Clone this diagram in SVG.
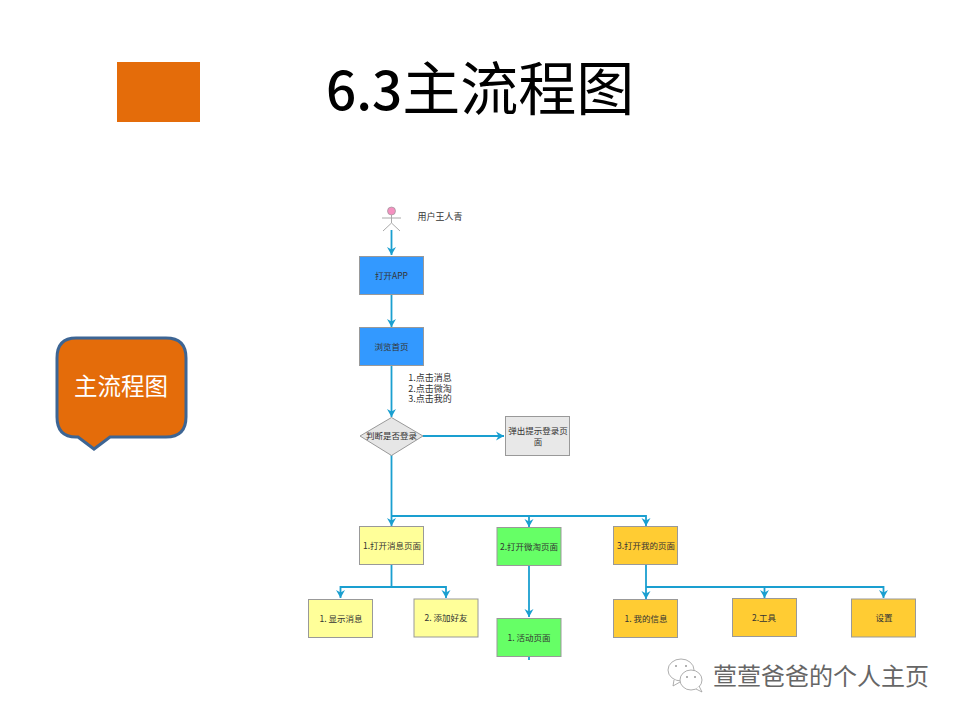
<svg xmlns="http://www.w3.org/2000/svg" width="960" height="720" viewBox="0 0 960 720">
<style>
text{font-family:"Noto Sans CJK SC","Liberation Sans",sans-serif;fill:#333;font-size:8.500px;text-anchor:middle}
.b{stroke:#999;stroke-width:1}
.c{fill:none;stroke:#1a9fd0;stroke-width:1.800}
.w{fill:#fff;stroke:#999;stroke-width:.8}
</style>
<defs>
<marker id="a" markerUnits="userSpaceOnUse" markerWidth="10" markerHeight="10" refX="8" refY="5" orient="auto"><path d="M0 .5L8 5L0 9.500L2.500 5Z" fill="#1a9fd0"/></marker>
</defs>
<rect width="960" height="720" fill="#fff"/>
<g id="accent"><rect x="117" y="62" width="83" height="60" fill="#e46c0a"/></g>
<text id="title" x="326" y="110" style="font-size:53px;fill:#000;text-anchor:start;font-weight:500">6.3<tspan style="font-size:58px;font-weight:400">主流程图</tspan></text>
<g id="callout"><path d="M76 338H166Q186 338 186 358V417Q186 437 166 437H110L94 449L78 437H76Q57 437 57 417V358Q57 338 76 338Z" fill="#e46c0a" stroke="#3d6594" stroke-width="3"/>
<text x="121" y="395" style="font-size:23.500px;fill:#fff">主流程图</text></g>
<g id="connectors">
<path class="c" d="M391.500 230V255" marker-end="url(#a)"/>
<path class="c" d="M391.500 295V327" marker-end="url(#a)"/>
<path class="c" d="M391.500 366V417" marker-end="url(#a)"/>
<path class="c" d="M423 436H504" marker-end="url(#a)"/>
<path class="c" d="M391.500 455V526" marker-end="url(#a)"/>
<path class="c" d="M391.500 516H529V527" marker-end="url(#a)"/>
<path class="c" d="M529 516H646V526" marker-end="url(#a)"/>
<path class="c" d="M391.500 565V587H340.500V598" marker-end="url(#a)"/>
<path class="c" d="M391.500 587H446V598" marker-end="url(#a)"/>
<path class="c" d="M529 566V617" marker-end="url(#a)"/>
<path class="c" d="M529 657V660"/>
<path class="c" d="M646 565V599" marker-end="url(#a)"/>
<path class="c" d="M646 587H764.500V598" marker-end="url(#a)"/>
<path class="c" d="M764.500 587H883.500V598" marker-end="url(#a)"/>
</g>
<g id="actor"><circle cx="391.500" cy="211" r="4" fill="#f590c0" stroke="#999" stroke-width=".7"/>
<path d="M391.500 215V223M382 218H401M383 231L391.500 223L400 231" fill="none" stroke="#aaa"/>
<text x="440" y="220" style="font-size:9px">用户王人青</text></g>
<g id="n1"><rect class="b" x="359.500" y="256.500" width="64" height="38" fill="#3399ff"/><text x="391.500" y="279">打开APP</text></g>
<g id="n2"><rect class="b" x="359.500" y="327.500" width="64" height="38" fill="#3399ff"/><text x="391.500" y="350">浏览首页</text></g>
<g id="label"><text style="font-size:9px"><tspan x="430" y="381">1.点击消息</tspan><tspan x="430" y="391.500">2.点击微淘</tspan><tspan x="430" y="402">3.点击我的</tspan></text></g>
<g id="n3"><path class="b" d="M391.500 417.500L423 436L391.500 455.500L360 436Z" fill="#e6e6e6"/><text x="391.500" y="439">判断是否登录</text></g>
<g id="n4"><rect class="b" x="505.500" y="416.500" width="64" height="39" fill="#e8e8e8"/><text><tspan x="538" y="434">弹出提示登录页</tspan><tspan x="538" y="445">面</tspan></text></g>
<g id="n5"><rect class="b" x="359.500" y="526.500" width="64" height="38" fill="#ffff99"/><text x="392" y="549">1.打开消息页面</text></g>
<g id="n6"><rect class="b" x="497" y="527.500" width="64" height="38" fill="#66ff66"/><text x="529" y="550">2.打开微淘页面</text></g>
<g id="n7"><rect class="b" x="613.500" y="526.500" width="64" height="38" fill="#ffcc33"/><text x="646" y="549">3.打开我的页面</text></g>
<g id="n8"><rect class="b" x="308.500" y="599.500" width="64" height="38" fill="#ffff99"/><text x="341" y="622">1. 显示消息</text></g>
<g id="n9"><rect class="b" x="414" y="599" width="64" height="38" fill="#ffff99"/><text x="446" y="621">2. 添加好友</text></g>
<g id="n10"><rect class="b" x="497" y="618.500" width="64" height="38" fill="#66ff66"/><text x="529" y="641">1. 活动页面</text></g>
<g id="n11"><rect class="b" x="613.500" y="599.500" width="64" height="38" fill="#ffcc33"/><text x="646" y="622">1. 我的信息</text></g>
<g id="n12"><rect class="b" x="732.500" y="598.500" width="64" height="38" fill="#ffcc33"/><text x="764" y="621">2.工具</text></g>
<g id="n13"><rect class="b" x="851.500" y="599" width="64" height="38" fill="#ffcc33"/><text x="884" y="621">设置</text></g>
<g id="watermark"><ellipse class="w" cx="681" cy="670" rx="13" ry="11"/><path class="w" d="M674 680L673 686L680 682"/><ellipse class="w" cx="691" cy="680" rx="11" ry="10"/><path class="w" d="M696 689L702 692L699 686"/>
<g fill="#999"><circle cx="676" cy="666" r="1"/><circle cx="686" cy="666" r="1"/><circle cx="687" cy="677" r="1"/><circle cx="695" cy="677" r="1"/></g>
<text x="821" y="685" style="font-size:24px;fill:#666">萱萱爸爸的个人主页</text></g>
</svg>
